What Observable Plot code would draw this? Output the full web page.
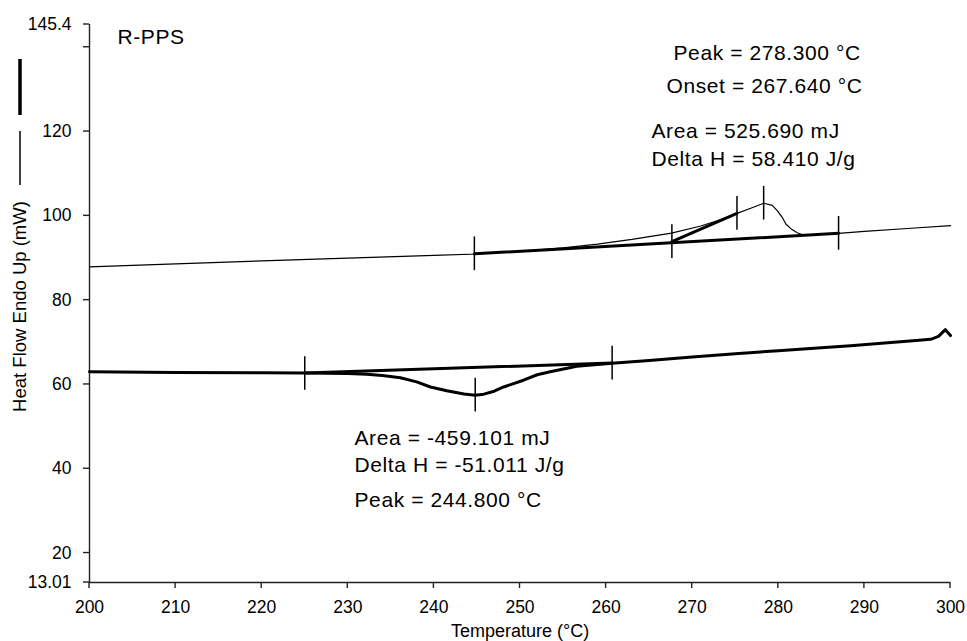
<!DOCTYPE html>
<html><head><meta charset="utf-8">
<script src="https://cdn.jsdelivr.net/npm/d3@7"></script>
<script src="https://cdn.jsdelivr.net/npm/@observablehq/plot@0.6"></script>
<style>body{margin:0;background:#fff;}</style>
</head><body><div id="chart"></div>
<script>
// Upper curve (thin) — heating scan
const heatT = [200, 210, 220, 230, 240, 245, 250, 255, 259, 263, 267.6, 271, 273, 275.2, 276.8, 278.3, 279.3, 279.9, 280.5, 280.9, 281.5, 282.2, 283, 287, 290, 295, 300];
const heatV = [87.9, 88.6, 89.3, 89.95, 90.6, 90.95, 91.6, 92.4, 93.3, 94.4, 95.9, 97.6, 98.9, 100.6, 101.8, 103.0, 102.5, 101.2, 99.5, 98.0, 96.9, 96.0, 95.4, 95.85, 96.3, 97.0, 97.7];
// Lower curve (thick) — cooling scan
const coolT = [200, 210, 220, 225, 230, 232.2, 234, 236.1, 238, 239.6, 241.5, 243.5, 244.8, 245.8, 247, 248.1, 250.4, 252, 253.5, 256.6, 260.7, 265, 270, 275, 280, 285, 288.4, 292, 296, 297.7, 298.6, 299.4, 300];
const coolV = [63.0, 62.85, 62.75, 62.7, 62.6, 62.4, 62.1, 61.6, 60.6, 59.4, 58.5, 57.75, 57.45, 57.7, 58.4, 59.4, 61.0, 62.3, 63.0, 64.3, 65.05, 65.7, 66.5, 67.3, 68.0, 68.7, 69.2, 69.8, 70.4, 70.7, 71.4, 73.0, 71.6];
// Analysis constructions
const heatBaseT = [244.7, 287];
const heatBaseV = [91.0, 95.85];
const onsetTanT = [267.64, 275.2];
const onsetTanV = [93.9, 100.6];
const coolBaseT = [225, 260.7];
const coolBaseV = [62.7, 65.1];
const heatMarkT = [244.7, 267.64, 275.2, 278.3, 287];
const heatMarkV = [91.0, 93.9, 100.6, 103.0, 95.85];
const coolMarkT = [225, 244.8, 260.7];
const coolMarkV = [62.6, 57.45, 65.05];
// Axes
const xTicks = [200, 210, 220, 230, 240, 250, 260, 270, 280, 290, 300];
const yTicks = [13.01, 20, 40, 60, 80, 100, 120, 140, 145.4];
const yTickLabels = ["13.01", "20", "40", "60", "80", "100", "120", "", "145.4"];
const xLabel = "Temperature (°C)";
const yLabel = "Heat Flow Endo Up (mW)";
// Annotations
const notes = ["R-PPS", "Peak = 278.300 °C", "Onset = 267.640 °C", "Area = 525.690 mJ", "Delta H = 58.410 J/g",
  "Area = -459.101 mJ", "Delta H = -51.011 J/g", "Peak = 244.800 °C"];
const noteLeft = [117, 673, 666, 651, 651, 354, 354, 354];
const noteMidY = [37, 53, 86, 131, 159, 437.5, 465, 500];

const ML = 89, MT = 24, MR = 17, MB = 59, W = 967, H = 641;
const seg = (T, V) => T.map((t, i) => ({t, v: V[i]}));
const heat = seg(heatT, heatV);
const cool = seg(coolT, coolV);
const marks = seg(heatMarkT, heatMarkV).concat(seg(coolMarkT, coolMarkV));
const half = 4.0;
const yMin = 13.01, yMax = 145.4, xMin = 200, xMax = 300;

const plot = Plot.plot({
  width: W, height: H,
  marginLeft: ML, marginRight: MR, marginTop: MT, marginBottom: MB,
  style: {fontFamily: "'Liberation Sans', Arial, sans-serif", fontSize: "17.5px", color: "#000", background: "#fff"},
  x: {domain: [xMin, xMax]},
  y: {domain: [yMin, yMax]},
  marks: [
    Plot.axisX(xTicks, {tickSize: 0, tickPadding: 18, fontSize: 17.5, label: null}),
    Plot.axisY(yTicks, {tickSize: 0, tickPadding: 18, fontSize: 17.5, label: null,
      tickFormat: (d) => yTickLabels[yTicks.indexOf(d)]}),
    // axis lines
    Plot.ruleX([xMin], {y1: yMin, y2: yMax, stroke: "#222", strokeWidth: 1.4}),
    Plot.ruleY([yMin], {x1: xMin, x2: xMax, stroke: "#222", strokeWidth: 1.4}),
    Plot.line(heat, {x: "t", y: "v", stroke: "#000", strokeWidth: 1.2}),
    Plot.line(cool, {x: "t", y: "v", stroke: "#000", strokeWidth: 3}),
    Plot.line(seg(heatBaseT, heatBaseV), {x: "t", y: "v", stroke: "#000", strokeWidth: 3}),
    Plot.line(seg(onsetTanT, onsetTanV), {x: "t", y: "v", stroke: "#000", strokeWidth: 3}),
    Plot.line(seg(coolBaseT, coolBaseV), {x: "t", y: "v", stroke: "#000", strokeWidth: 3}),
    Plot.ruleX(marks, {x: "t", y1: (d) => d.v - half, y2: (d) => d.v + half, stroke: "#000", strokeWidth: 1.5}),
    Plot.text(notes, {text: (d) => d, frameAnchor: "top-left", textAnchor: "start", lineAnchor: "middle", fontSize: 21, fill: "#000"}),
    Plot.text([xLabel], {frameAnchor: "bottom", dy: 49, lineAnchor: "middle", fontSize: 18, fill: "#000"}),
    Plot.text([yLabel], {frameAnchor: "left", textAnchor: "middle", lineAnchor: "middle", fontSize: 18.5, fill: "#000"})
  ]
});
document.getElementById("chart").appendChild(plot);

// Layout: annotation positions, y label placement, letter spacing
const svg = d3.select(plot);
const textGroups = plot.querySelectorAll('g[aria-label="text"]');
d3.select(textGroups[0]).selectAll("text").each(function(d, i) {
  d3.select(this).attr("transform", `translate(${noteLeft[i]},${noteMidY[i]})`).style("letter-spacing", "0.6px");
});
d3.select(textGroups[2]).selectAll("text").attr("transform", "translate(19.5,306) rotate(-90)");

// Outward axis tick marks, placed through Plot's own scales
const sx = plot.scale("x"), sy = plot.scale("y");
const tg = svg.append("g").attr("stroke", "#222").attr("stroke-width", 1.4);
const x0 = sx.apply(xMin), y0 = sy.apply(yMin);
yTicks.forEach((v) => {
  const py = sy.apply(v);
  tg.append("line").attr("x1", x0 - 6).attr("x2", x0).attr("y1", py).attr("y2", py);
});
xTicks.forEach((v) => {
  const px = sx.apply(v);
  tg.append("line").attr("x1", px).attr("x2", px).attr("y1", y0).attr("y2", y0 + 6);
});
// Legend line swatches in the y-label area
svg.append("line").attr("x1", 20).attr("x2", 20).attr("y1", 59).attr("y2", 115).attr("stroke", "#000").attr("stroke-width", 3.5);
svg.append("line").attr("x1", 20).attr("x2", 20).attr("y1", 131).attr("y2", 185).attr("stroke", "#000").attr("stroke-width", 1.5);
</script>
</body></html>
